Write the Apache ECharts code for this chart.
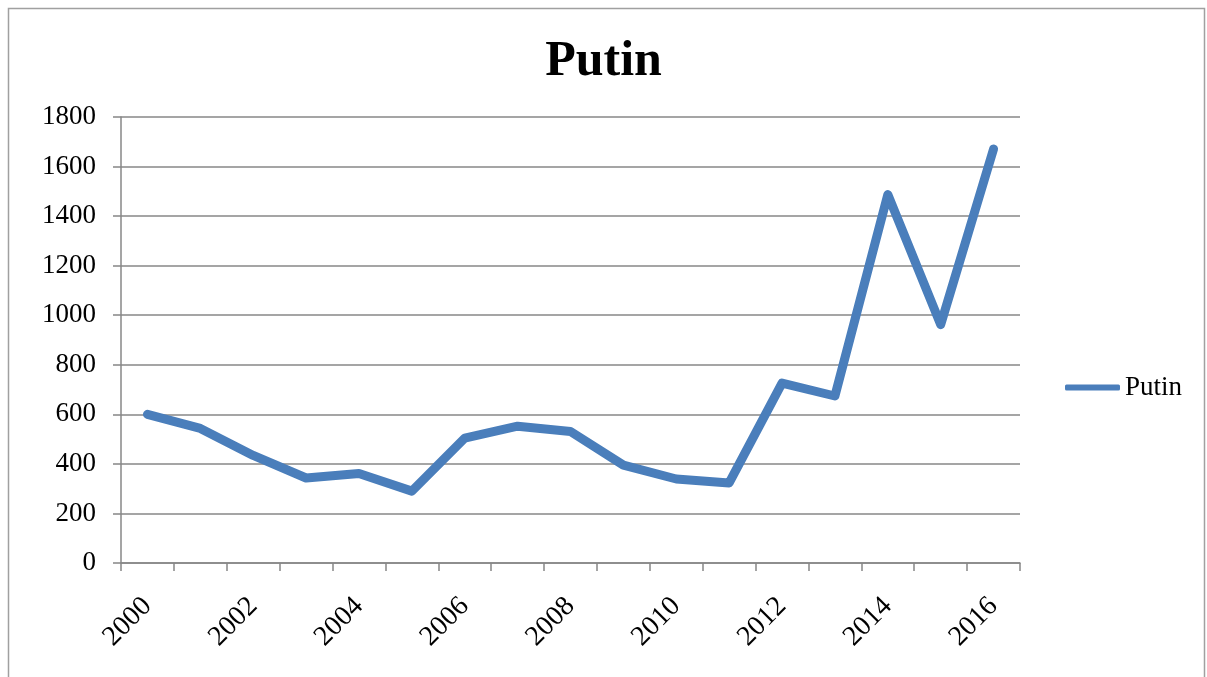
<!DOCTYPE html>
<html lang="en">
<head>
    <meta charset="UTF-8">
    <title>Putin</title>
    <script src="https://cdn.jsdelivr.net/npm/echarts@6/dist/echarts.min.js"></script>
    <style>
        html, body { margin: 0; padding: 0; background: #fff; }
        #main { width: 1207px; height: 677px; }
    </style>
</head>
<body>
<div id="main"></div>
<script type="text/javascript">
    var years = ['2000', '2001', '2002', '2003', '2004', '2005', '2006', '2007', '2008',
        '2009', '2010', '2011', '2012', '2013', '2014', '2015', '2016'];
    var putin = [600, 543, 434, 343, 361, 290, 504, 552, 531, 395, 339, 323, 726, 674, 1487, 962, 1671];
    var yTicks = [0, 200, 400, 600, 800, 1000, 1200, 1400, 1600, 1800];

    var font = '"Liberation Serif", "DejaVu Serif", serif';
    var gray = '#878787';

    var myChart = echarts.init(document.getElementById('main'));
    var option = {
        animation: false,
        backgroundColor: '#fff',
        title: {
            text: 'Putin',
            left: 'center',
            top: 32,
            textStyle: { fontFamily: font, fontSize: 50, fontWeight: 'bold', color: '#000' }
        },
        graphic: [{
            type: 'rect',
            shape: { x: 8.5, y: 8.5, width: 1196, height: 700 },
            style: { fill: 'none', stroke: '#a0a0a0', lineWidth: 1.5 },
            silent: true
        }],
        legend: {
            data: [{ name: 'Putin', icon: 'roundRect' }],
            left: 1060,
            top: 369,
            itemWidth: 55,
            itemHeight: 6,
            itemGap: 3,
            textStyle: { fontFamily: font, fontSize: 27, color: '#000' }
        },
        grid: { left: 121, right: 187, top: 117, bottom: 114, containLabel: false },
        xAxis: {
            type: 'category',
            data: years,
            boundaryGap: true,
            axisLine: { lineStyle: { color: gray, width: 1.5 } },
            axisTick: { show: true, interval: 0, length: 8, lineStyle: { color: gray, width: 1.5 } },
            axisLabel: {
                interval: 1,
                rotate: 45,
                margin: 39,
                fontFamily: font,
                fontSize: 28,
                color: '#000'
            },
            splitLine: { show: false }
        },
        yAxis: {
            type: 'value',
            min: yTicks[0],
            max: yTicks[yTicks.length - 1],
            interval: 200,
            axisLine: { show: true, lineStyle: { color: gray, width: 1.5 } },
            axisTick: { show: true, length: 8, lineStyle: { color: gray, width: 1.5 } },
            axisLabel: {
                margin: 25,
                fontFamily: font,
                fontSize: 27,
                color: '#000',
                formatter: function (v) { return String(v); }
            },
            splitLine: { lineStyle: { color: gray, width: 1.5 } }
        },
        series: [{
            name: 'Putin',
            type: 'line',
            data: putin,
            symbol: 'none',
            smooth: false,
            color: '#4a7ebb',
            lineStyle: { color: '#4a7ebb', width: 9, cap: 'round', join: 'round' }
        }]
    };
    myChart.setOption(option);
</script>
</body>
</html>
